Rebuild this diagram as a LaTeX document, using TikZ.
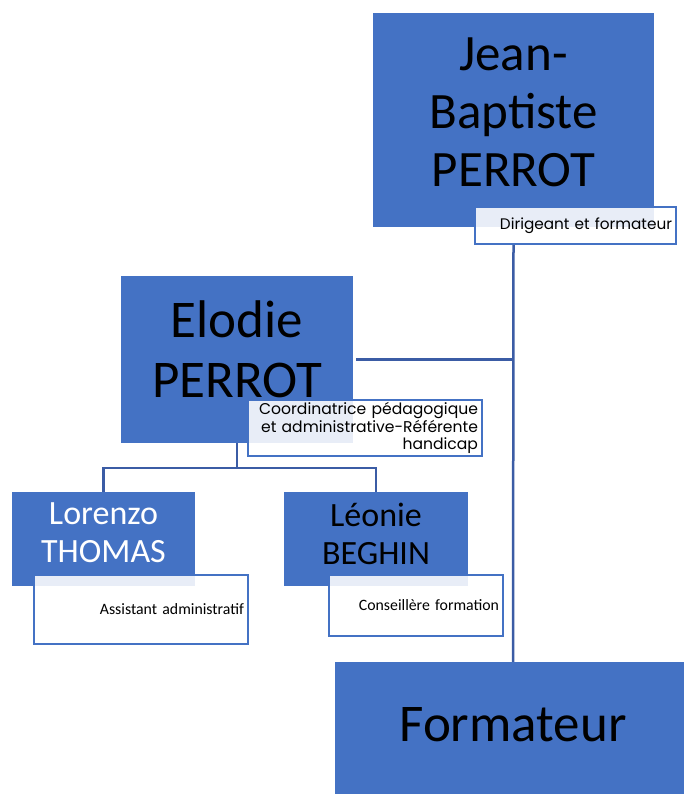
\documentclass[tikz,border=0pt]{standalone}
\usepackage{fontspec}
\setmainfont{Carlito}
\newfontfamily\rolefont{Poppins}
\definecolor{boxblue}{RGB}{68,114,196}
\definecolor{linkblue}{RGB}{59,92,165}

\begin{document}
\begin{tikzpicture}[x=1pt,y=-1pt]
\tikzstyle{person}=[rectangle,fill=boxblue,inner sep=0pt]
\tikzstyle{persontext}=[align=center,inner sep=0pt]
\tikzstyle{role}=[rectangle,draw=boxblue,line width=2pt,fill=white,fill opacity=0.88,text opacity=1,inner xsep=4pt,inner ysep=0pt,align=right]
\tikzstyle{link}=[draw=linkblue,line width=2.5pt]
\useasboundingbox (0,0) rectangle (684,794);
\clip (0,0) rectangle (684,794);
% people
\node[person,minimum width=281,minimum height=214,
  label={[persontext,yshift=8pt,font=\fontsize{51}{58}\selectfont]center:Jean-\\Baptiste\\PERROT}] (jean) at (513.5,120) {};
\node[person,minimum width=232,minimum height=167,
  label={[persontext,yshift=10pt,font=\fontsize{53}{60}\selectfont]center:Elodie\\PERROT}] (elodie) at (237,359.5) {};
\node[person,minimum width=183,minimum height=94,
  label={[persontext,yshift=6pt,font=\fontsize{34}{38}\selectfont,text=white]center:Lorenzo\\THOMAS}] (lorenzo) at (103.5,539) {};
\node[person,minimum width=184,minimum height=94,
  label={[persontext,yshift=5pt,font=\fontsize{34}{38}\selectfont]center:Léonie\\BEGHIN}] (leonie) at (376,539) {};
\node[person,minimum width=356,minimum height=132,
  label={[persontext,yshift=3pt,font=\fontsize{53}{60}\selectfont]center:Formateur}] (formateur) at (513,728) {};
% roles
\node[role,text width=193pt,minimum height=37pt,font=\rolefont\fontsize{15.3}{17}\selectfont] (jeanrole) at (575.5,225.5) {Dirigeant et formateur};
\node[role,text width=226pt,minimum height=56pt,font=\rolefont\fontsize{15.6}{17.5}\selectfont] (elodierole) at (365,428) {Coordinatrice pédagogique\\et administrative-Référente\\handicap};
\node[role,text width=206pt,minimum height=69pt,font=\fontsize{15.8}{18}\selectfont] (lorenzorole) at (141,609.5) {Assistant administratif};
\node[role,text width=166pt,minimum height=61pt,font=\fontsize{15.8}{18}\selectfont] (leonierole) at (416,605.5) {Conseillère formation};
% links
\draw[link] (jean.center |- jeanrole.south) -- (formateur.north);
\draw[link] ([xshift=3pt]elodie.east) -- (elodie.east -| formateur.north);
\draw[link] (elodie.south) -- ++(0,25) coordinate (fork);
\draw[link] (lorenzo.north) |- (fork) -| (leonie.north);
\end{tikzpicture}
\end{document}
